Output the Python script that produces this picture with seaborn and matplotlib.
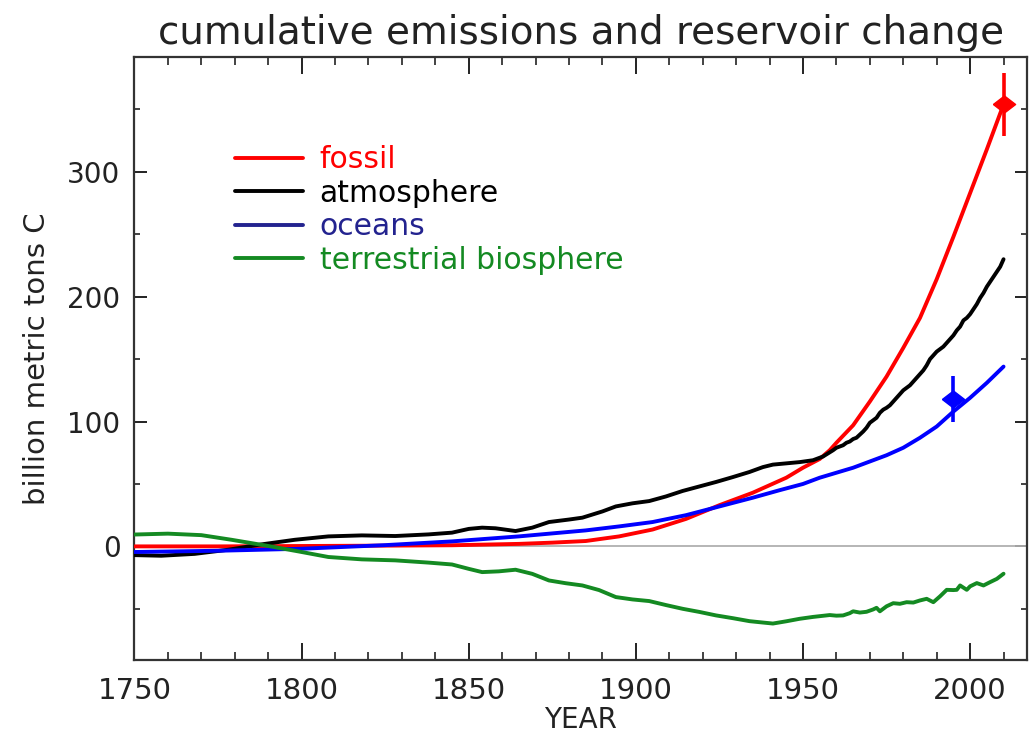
import matplotlib
matplotlib.use("Agg")
import matplotlib.pyplot as plt
from matplotlib.lines import Line2D
from matplotlib.ticker import MultipleLocator
import pandas as pd
import seaborn as sns

# cumulative carbon (billion metric tons C) since 1750
fossil_years = [1750, 1775, 1800, 1825, 1845, 1865, 1875, 1885, 1895, 1905, 1915, 1925,
                1935, 1940, 1945, 1950, 1955, 1958, 1960, 1965, 1970, 1975, 1980, 1985,
                1990, 1995, 2000, 2005, 2010]
fossil_vals = [0, 0, 0.3, 0.6, 0.9, 2, 3, 4.3, 8, 13.5, 22, 33,
               43, 49, 55, 63, 70, 77, 83, 97, 116, 136, 159, 183,
               214, 248, 283, 318, 354]

atmos_years = [1750, 1758, 1768, 1778, 1788, 1798, 1808, 1818, 1828, 1838, 1845, 1850,
               1854, 1858, 1864, 1869, 1874, 1880, 1884, 1890, 1894, 1899, 1904, 1909,
               1914, 1919, 1924, 1929, 1934, 1938, 1941, 1945, 1949, 1953, 1956, 1959,
               1960, 1962, 1963, 1964, 1965, 1966, 1967, 1968, 1969, 1970, 1971, 1972,
               1973, 1974, 1975, 1976, 1977, 1978, 1979, 1980, 1981, 1982, 1983, 1984,
               1985, 1986, 1987, 1988, 1989, 1990, 1991, 1992, 1993, 1994, 1995, 1996,
               1997, 1998, 1999, 2000, 2001, 2002, 2003, 2004, 2005, 2006, 2007, 2008,
               2009, 2010]
atmos_vals = [-7, -7.5, -6, -2.7, 1.6, 5.3, 8, 8.8, 8.3, 9.6, 11, 14,
              15, 14.5, 12.3, 15, 19.5, 21.5, 23, 28, 32, 34.5, 36.3, 40,
              44.4, 48, 51.6, 55.5, 59.6, 63.5, 65.5, 66.5, 67.5, 69, 72, 77,
              79, 81, 83, 84, 86, 87, 89.5, 92, 95, 99, 101, 103,
              107, 109.5, 111, 113, 116, 119, 122, 125, 127, 129, 132, 135,
              138, 141, 145, 150, 153, 156, 158, 160, 163, 166, 169, 173,
              176, 181, 183, 186, 190, 194, 199, 203, 208, 212, 216, 220,
              224, 230]

ocean_years = [1750, 1775, 1800, 1825, 1845, 1865, 1885, 1895, 1905, 1915, 1925, 1935,
               1943, 1950, 1955, 1960, 1965, 1970, 1975, 1980, 1985, 1990, 1995, 2000,
               2005, 2010]
ocean_vals = [-4.5, -3.5, -1.9, 1, 4, 8, 12.8, 16, 19.5, 25, 32, 39,
              45, 50, 55, 59, 63, 68, 73, 79, 87, 96, 108, 119,
              131, 144]

land_years = [1750, 1760, 1770, 1779, 1789, 1799, 1808, 1818, 1828, 1838, 1845, 1850,
              1854, 1859, 1864, 1869, 1874, 1879, 1884, 1889, 1894, 1899, 1904, 1909,
              1914, 1919, 1924, 1929, 1934, 1938, 1941, 1945, 1949, 1953, 1958, 1960,
              1962, 1964, 1965, 1967, 1969, 1971, 1972, 1973, 1975, 1977, 1979, 1981,
              1983, 1985, 1987, 1989, 1991, 1993, 1995, 1996, 1997, 1999, 2000, 2002,
              2004, 2006, 2008, 2010]
land_vals = [9.5, 10.2, 9, 5.3, 0.8, -4, -8.5, -10.4, -11.2, -13, -14.5, -18,
             -20.6, -20, -18.7, -22, -27.3, -29.5, -31.3, -35, -40.6, -42.5, -43.8, -47,
             -50, -52.5, -55.3, -57.5, -59.9, -61, -61.8, -60, -58, -56.5, -55, -55.5,
             -55.3, -53.5, -52, -53, -52.4, -50.5, -49.2, -52, -48, -45.5, -46, -44.7,
             -45, -43.3, -42, -44.7, -40, -34.8, -35, -34.8, -31.3, -34.8, -32, -29.4,
             -31.3, -28.6, -26, -21.9]

# independent estimates with uncertainty
fossil_obs_year, fossil_obs_val, fossil_obs_err = 2010, 354, 25
ocean_obs_year, ocean_obs_val, ocean_obs_err = 1995, 118, 18.5

series_names = ["fossil", "atmosphere", "oceans", "terrestrial biosphere"]
line_colors = ["#ff0000", "#000000", "#0000ff", "#148a22"]
legend_colors = ["#ff0000", "#000000", "#23238f", "#148a22"]

frames = []
for name, yrs, vals in zip(series_names,
                           [fossil_years, atmos_years, ocean_years, land_years],
                           [fossil_vals, atmos_vals, ocean_vals, land_vals]):
    frames.append(pd.DataFrame({"year": yrs, "value": vals, "series": name}))
df = pd.concat(frames, ignore_index=True)

sns.set_style("white")
plt.rcParams["font.family"] = ["DejaVu Sans"]

fig = plt.figure(figsize=(10.29, 7.38), dpi=100)
ax = fig.add_axes([0.1307, 0.1057, 0.8673, 0.8171])

ax.axhline(0, color="#b0b0b0", lw=1.3, zorder=1)

sns.lineplot(data=df, x="year", y="value", hue="series", hue_order=series_names,
             palette=dict(zip(series_names, line_colors)), linewidth=2.8,
             legend=False, ax=ax, sort=False, zorder=3)

# diamond marker slightly wider than tall
diamond = [(-1.3, 0), (0, 1), (1.3, 0), (0, -1), (-1.3, 0)]
ax.errorbar([fossil_obs_year], [fossil_obs_val], yerr=[fossil_obs_err], fmt="none",
            ecolor="#ff0000", elinewidth=2.6, capsize=0, zorder=4)
ax.plot([fossil_obs_year], [fossil_obs_val], marker=diamond, markersize=16,
        color="#ff0000", linestyle="none", zorder=5)
ax.errorbar([ocean_obs_year], [ocean_obs_val], yerr=[ocean_obs_err], fmt="none",
            ecolor="#0000ff", elinewidth=2.6, capsize=0, zorder=4)
ax.plot([ocean_obs_year], [ocean_obs_val], marker=diamond, markersize=16,
        color="#0000ff", linestyle="none", zorder=5)

ax.set_xlim(1750, 2017)
ax.set_ylim(-91, 392)
ax.xaxis.set_major_locator(MultipleLocator(50))
ax.xaxis.set_minor_locator(MultipleLocator(10))
ax.set_yticks([0, 100, 200, 300])
ax.yaxis.set_minor_locator(MultipleLocator(50))

ax.tick_params(axis="x", which="major", direction="in", length=12, width=1.4,
               top=True, bottom=True, pad=12, colors="#222222", labelsize=21)
ax.tick_params(axis="x", which="minor", direction="in", length=6, width=1.2,
               top=True, bottom=True, colors="#222222")
ax.tick_params(axis="y", which="major", direction="in", length=9, width=1.4,
               left=True, right=True, pad=10, colors="#222222", labelsize=20)
ax.tick_params(axis="y", which="minor", direction="in", length=4.5, width=1.2,
               left=True, right=True, colors="#222222")

for sp in ax.spines.values():
    sp.set_color("#333333")
    sp.set_linewidth(1.6)

ax.set_xlabel("YEAR", fontsize=20, color="#222222", labelpad=1)
ax.set_ylabel("billion metric tons C", fontsize=21, color="#222222", labelpad=12)
ax.set_title("cumulative emissions and reservoir change", fontsize=28,
             color="#222222", pad=9)

handles = [Line2D([0], [0], color=c, lw=2.8) for c in legend_colors]
leg = ax.legend(handles, series_names, loc="upper left",
                bbox_to_anchor=(0.082, 0.898), frameon=False, fontsize=21.5,
                handlelength=2.3, handletextpad=0.55, labelspacing=0.15,
                labelcolor=legend_colors)

fig.savefig("out.png", dpi=100)
